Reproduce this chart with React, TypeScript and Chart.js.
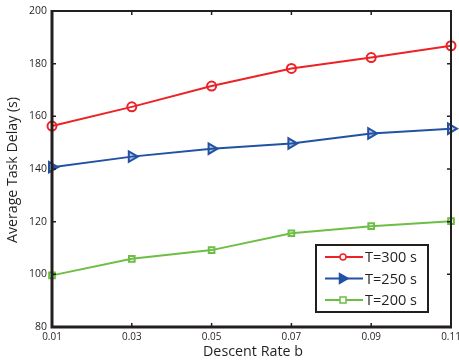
import React, { useEffect, useRef } from "react";
import { Chart, registerables } from "chart.js";
Chart.register(...registerables);

const categories = ["0.01", "0.03", "0.05", "0.07", "0.09", "0.11"];
const t300 = [156.3, 163.6, 171.5, 178.2, 182.3, 186.8];
const t250 = [140.7, 144.7, 147.7, 149.7, 153.5, 155.3];
const t200 = [99.6, 105.9, 109.2, 115.6, 118.3, 120.2];
const yTicks = [80, 100, 120, 140, 160, 180, 200];
const seriesNames = ["T=300 s", "T=250 s", "T=200 s"];
const colors = ["#ED2227", "#2152A3", "#6DBE45"];
const FONT = "'Open Sans', 'Liberation Sans', sans-serif";
const INK = "#231F20";

function fitText(ctx: CanvasRenderingContext2D, text: string, x: number, y: number, width: number) {
  const w = ctx.measureText(text).width;
  ctx.save();
  ctx.translate(x, y);
  ctx.scale(width / w, 1);
  ctx.fillText(text, 0, 0);
  ctx.restore();
}

function drawPointLocal(ctx: CanvasRenderingContext2D, o: any, x: number, y: number) {
  const r = o.radius;
  ctx.lineWidth = o.borderWidth;
  ctx.beginPath();
  if (o.pointStyle === "circle") {
    ctx.arc(x, y, r, 0, Math.PI * 2);
  } else if (o.pointStyle === "rect") {
    ctx.rect(x - r, y - r, 2 * r, 2 * r);
  } else {
    ctx.moveTo(x + r, y);
    ctx.lineTo(x - r * 0.7, y - r);
    ctx.lineTo(x - r * 0.7, y + r);
    ctx.closePath();
  }
  ctx.fill();
  ctx.stroke();
}

const framePlugin = {
  id: "frame",
  afterDatasetsDraw(chart: any) {
    const { ctx, chartArea: a, scales } = chart;
    const x = scales.x, y = scales.y;
    ctx.save();
    ctx.strokeStyle = INK;
    // inward ticks
    ctx.lineWidth = 1.5;
    categories.forEach((_, i) => {
      const px = x.getPixelForValue(i);
      ctx.beginPath();
      ctx.moveTo(px, a.bottom); ctx.lineTo(px, a.bottom - 4);
      ctx.moveTo(px, a.top); ctx.lineTo(px, a.top + 4);
      ctx.stroke();
    });
    yTicks.forEach((v) => {
      const py = y.getPixelForValue(v);
      ctx.beginPath();
      ctx.moveTo(a.left, py); ctx.lineTo(a.left + 4, py);
      ctx.moveTo(a.right, py); ctx.lineTo(a.right - 4, py);
      ctx.stroke();
    });
    // frame
    ctx.lineWidth = 2;
    ctx.beginPath();
    ctx.moveTo(a.left, a.top); ctx.lineTo(a.right, a.top); ctx.lineTo(a.right, a.bottom);
    ctx.stroke();
    ctx.lineWidth = 3;
    ctx.beginPath();
    ctx.moveTo(a.left, a.top - 1); ctx.lineTo(a.left, a.bottom); ctx.lineTo(a.right + 1, a.bottom);
    ctx.stroke();

    // tick labels
    ctx.fillStyle = INK;
    ctx.font = `11px ${FONT}`;
    ctx.textBaseline = "middle";
    ctx.textAlign = "right";
    yTicks.forEach((v) => {
      ctx.save();
      ctx.translate(47, y.getPixelForValue(v));
      ctx.scale(0.95, 1);
      ctx.fillText(String(v), 0, 0);
      ctx.restore();
    });
    ctx.textAlign = "center";
    categories.forEach((c, i) => {
      ctx.save();
      ctx.translate(x.getPixelForValue(i), 337);
      ctx.scale(0.9, 1);
      ctx.fillText(c, 0, 0);
      ctx.restore();
    });

    // legend
    const lx = 316, ly = 245, lw = 112, lh = 67;
    ctx.fillStyle = "#fff";
    ctx.fillRect(lx, ly, lw, lh);
    ctx.strokeStyle = INK;
    ctx.lineWidth = 2;
    ctx.strokeRect(lx, ly, lw, lh);
    seriesNames.forEach((name, i) => {
      const cy = ly + 12 + i * 21.5;
      ctx.strokeStyle = colors[i];
      ctx.lineWidth = 2;
      ctx.beginPath();
      ctx.moveTo(lx + 9, cy); ctx.lineTo(lx + 47, cy);
      ctx.stroke();
      const ds = chart.data.datasets[i];
      const opts = { pointStyle: ds.pointStyle, radius: i === 1 ? 5 : 3, borderWidth: 1.5 };
      ctx.fillStyle = i === 1 ? colors[1] : "#fff";
      ctx.strokeStyle = colors[i];
      drawPointLocal(ctx, opts, lx + 27, cy);
      ctx.fillStyle = INK;
      ctx.font = `15px ${FONT}`;
      ctx.textBaseline = "middle";
      ctx.textAlign = "left";
      fitText(ctx, name, lx + 49, cy + 1, 52);
    });

    // axis titles
    ctx.fillStyle = INK;
    ctx.font = `14px ${FONT}`;
    ctx.textAlign = "left";
    ctx.textBaseline = "middle";
    fitText(ctx, "Descent Rate b", 203, 352, 100);
    ctx.save();
    ctx.translate(13, 243);
    ctx.rotate(-Math.PI / 2);
    fitText(ctx, "Average Task Delay (s)", 0, 0, 146);
    ctx.restore();
    ctx.restore();
  },
};

export default function App() {
  const ref = useRef<HTMLCanvasElement>(null);
  useEffect(() => {
    document.body.style.margin = "0";
    const mk = (label: string, data: number[], c: string, style: string, r: number, rot = 0, bg = "rgba(255,255,255,0)") => ({
      label, data, borderColor: c, backgroundColor: bg, borderWidth: 2,
      pointStyle: style, pointRadius: r, pointBorderWidth: 2, pointBorderColor: c,
      pointBackgroundColor: bg, pointRotation: rot, tension: 0,
    });
    const chart = new Chart(ref.current!, {
      type: "line",
      data: {
        labels: categories,
        datasets: [
          mk(seriesNames[0], t300, colors[0], "circle", 4.5),
          mk(seriesNames[1], t250, colors[1], "triangle", 6, 90, "rgba(33,82,163,0.3)"),
          mk(seriesNames[2], t200, colors[2], "rect", 4),
        ] as any,
      },
      options: {
        animation: false,
        responsive: false,
        layout: { padding: { top: 11, right: 7, left: 0, bottom: 0 } },
        plugins: { legend: { display: false }, tooltip: { enabled: false } },
        scales: {
          x: {
            type: "category",
            offset: false,
            grid: { display: false },
            border: { display: false },
            ticks: { display: false },
            afterFit: (s: any) => { s.height = 37; },
          },
          y: {
            min: 80, max: 200,
            grid: { display: false },
            border: { display: false },
            afterBuildTicks: (s: any) => { s.ticks = yTicks.map((v) => ({ value: v })); },
            ticks: { display: false },
            afterFit: (s: any) => { s.width = 52; },
          },
        },
      },
      plugins: [framePlugin],
    });
    return () => chart.destroy();
  }, []);
  return (
    <div style={{ width: 459, height: 364, background: "#fff" }}>
      <canvas ref={ref} width={459} height={364} />
    </div>
  );
}
